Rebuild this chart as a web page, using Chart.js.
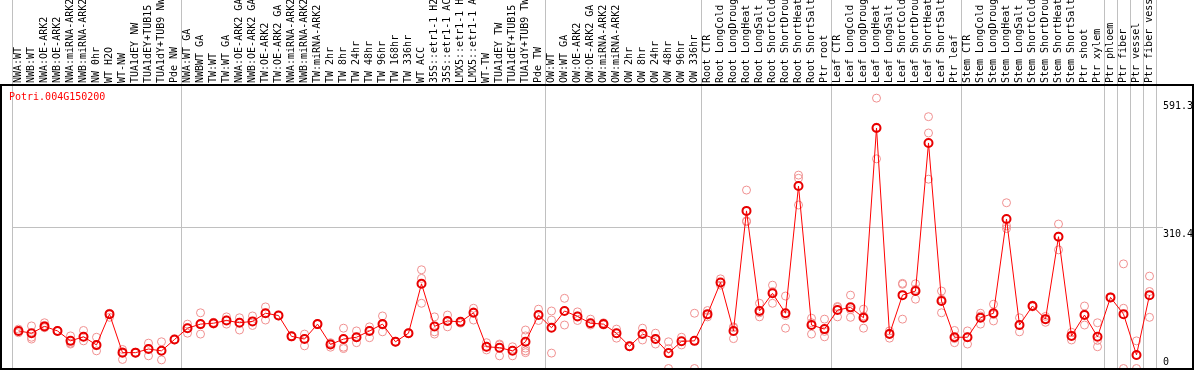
<!DOCTYPE html>
<html>
<head>
<meta charset="utf-8">
<script src="https://cdn.jsdelivr.net/npm/chart.js@4.4.1/dist/chart.umd.min.js"></script>
<style>
  html, body { margin: 0; padding: 0; background: #fff; }
  #wrap { width: 1194px; height: 370px; }
</style>
</head>
<body>
<div id="wrap"><canvas id="expr" width="1194" height="370"></canvas></div>
<script>
var geneName = "Potri.004G150200";

var sampleLabels = [
    "NWA:WT", "NWB:WT", "NWA:OE-ARK2", "NWB:OE-ARK2", "NWA:miRNA-ARK2", "NWB:miRNA-ARK2",
    "NW 0hr", "WT H2O", "WT-NW", "TUA1dEY NW", "TUA1dEY+TUB15 NW", "TUA1dY+TUB9 NW", "Pde NW",
    "NWA:WT GA", "NWBWT GA", "TW:WT", "TW:WT GA", "NWA:OE-ARK2 GA", "NWB:OE-ARK2 GA",
    "TW:OE-ARK2", "TW:OE-ARK2 GA", "NWA:miRNA-ARK2", "NWB:miRNA-ARK2", "TW:miRNA-ARK2",
    "TW 2hr", "TW 8hr", "TW 24hr", "TW 48hr", "TW 96hr", "TW 168hr", "TW 336hr", "WT ACC",
    "35S::etr1-1 H2O", "35S::etr1-1 ACC", "LMX5::etr1-1 H2O", "LMX5::etr1-1 ACC",
    "WT-TW", "TUA1dEY TW", "TUA1dEY+TUB15 TW", "TUA1dY+TUB9 TW", "Pde TW",
    "OW:WT", "OW:WT GA", "OW:OE-ARK2", "OW:OE-ARK2 GA", "OW:miRNA-ARK2", "OW:miRNA-ARK2 GA",
    "OW 2hr", "OW 8hr", "OW 24hr", "OW 48hr", "OW 96hr", "OW 336hr",
    "Root CTR", "Root LongCold", "Root LongDrought", "Root LongHeat", "Root LongSalt",
    "Root ShortCold", "Root ShortDrought", "Root ShortHeat", "Root ShortSalt", "Ptr root",
    "Leaf CTR", "Leaf LongCold", "Leaf LongDrought", "Leaf LongHeat", "Leaf LongSalt",
    "Leaf ShortCold", "Leaf ShortDrought", "Leaf ShortHeat", "Leaf ShortSalt", "Ptr leaf",
    "Stem CTR", "Stem LongCold", "Stem LongDrought", "Stem LongHeat", "Stem LongSalt",
    "Stem ShortCold", "Stem ShortDrought", "Stem ShortHeat", "Stem ShortSalt", "Ptr shoot",
    "Ptr xylem", "Ptr phloem", "Ptr fiber", "Ptr vessel", "Ptr fiber vessel"
];

// mean expression per sample
var meanValues = [
    83, 78, 93, 83, 61, 70, 52, 120, 35, 35, 43, 39, 64,
    89, 98, 100, 106, 101, 104, 122, 117, 71, 65, 98, 53, 65, 69, 83, 98, 59,
    78, 187, 93, 105, 103, 123, 48, 46, 39, 59, 118,
    90, 127, 115, 100, 98, 78, 49, 76, 65, 34, 60, 61,
    120, 190, 83, 348, 127, 166, 122, 403, 96, 87,
    129, 135, 112, 531, 76, 162, 171, 498, 149, 69,
    69, 112, 122, 330, 96, 138, 109, 291, 72, 118, 70,
    157, 120, 30, 162
];

// individual replicates (null = no replicate)
var repA = [
    87, 94, 101, 84, 72, 84, 69, 122, 42, 36, 56, 59, 65,
    98, 123, 98, 114, 112, 116, 136, 118, 72, 76, 99, 57, 89, 83, 92, 116, 60,
    79, 218, 114, 118, 104, 133, 57, 54, 48, 85, 131,
    127, 155, 125, 109, 101, 87, 50, 89, 78, 59, 69, 122,
    128, 198, 92, 394, 144, 184, 160, 427, 111, 109,
    137, 162, 131, 597, 83, 188, 187, 556, 171, 84,
    83, 122, 142, 366, 112, 140, 115, 319, 80, 138, 101,
    158, 231, 61, 204
];
var repB = [
    79, 69, 95, 82, 56, 61, 50, 113, 20, 34, 28, 19, 63,
    78, 76, 102, 98, 85, 95, 107, 116, 70, 50, 97, 47, 47, 57, 68, 81, 58,
    77, 199, 81, 92, 100, 107, 41, 28, 28, 72, 106,
    107, 96, 106, 96, 96, 67, 48, 63, 54, 0, 52, 0,
    114, 184, 66, 324, 114, 144, 89, 420, 76, 70,
    114, 113, 89, 463, 67, 186, 153, 520, 123, 57,
    54, 98, 105, 315, 81, 136, 102, 262, 63, 96, 48,
    156, 133, 0, 170
];
var repC = [
    82, 65, 90, 83, 54, 70, 39, 121, 37, 35, 44, 40, 64,
    90, 97, 100, 107, 102, 104, 122, 117, 71, 66, 98, 55, 44, 68, 84, 96, 59,
    78, 144, 76, 105, 103, 125, 47, 52, 40, 45, 118,
    34, 127, 116, 100, 98, 78, 49, 76, 66, 44, 60, 61,
    118, 189, 90, 326, 123, 170, 117, 361, 101, 82,
    135, 130, 116, 533, 78, 109, 175, 418, 153, 66,
    70, 116, 119, 309, 95, 138, 110, 292, 73, 120, 62,
    157, 0, 29, 113
];
var repD = [
    null, null, null, null, null, null, null, null, null, null, null, null, null,
    null, null, null, null, null, null, null, null, null, null, null, null, null, null, null, null, null,
    null, null, null, null, null, null, null, null, null, 39, null,
    null, null, null, null, null, null, null, null, null, null, null, null,
    null, null, null, null, null, null, null, null, null, null,
    null, null, null, null, null, null, null, null, null, null,
    null, null, null, null, null, null, null, null, null, null, null,
    null, null, null, null
];
var repE = [
    null, null, null, null, null, null, null, null, null, null, null, null, null,
    null, null, null, null, null, null, null, null, null, null, null, null, null, null, null, null, null,
    null, null, null, null, null, null, null, null, null, 35, null,
    null, null, null, null, null, null, null, null, null, null, null, null,
    null, null, null, null, null, null, null, null, null, null,
    null, null, null, null, null, null, null, null, null, null,
    null, null, null, null, null, null, null, null, null, null, null,
    null, null, null, null
];

var yTickValues = [0, 310.4, 591.3];
var yMax = 626;
// category index where a grey separator line sits on the left edge
var groupBreaks = [0, 13, 41, 53, 63, 73, 84, 85, 86, 87];

var monoFont = { family: "'DejaVu Sans Mono', 'Liberation Mono', monospace", size: 10 };
var sepColor = "#c0c0c0";

function repDataset(values) {
    return {
        data: values,
        showLine: false,
        pointRadius: 4,
        pointBorderWidth: 1,
        pointBorderColor: "#f09090",
        pointBackgroundColor: "rgba(0,0,0,0)",
        spanGaps: false
    };
}

// black frame round the plot and the gene name in the corner
var framePlugin = {
    id: "frame",
    afterDraw: function (chart) {
        var c = chart.ctx;
        c.save();
        c.strokeStyle = "#000";
        c.lineWidth = 2;
        c.strokeRect(1, 85, 1192, 284);
        c.fillStyle = "#ff0000";
        c.font = "10px " + monoFont.family;
        c.textBaseline = "middle";
        c.textAlign = "left";
        c.fillText(geneName, 9, 97);
        c.restore();
    }
};

var datasets = [{
    data: meanValues,
    borderColor: "#ff0000",
    borderWidth: 1,
    pointRadius: 4,
    pointBorderWidth: 2,
    pointBorderColor: "#e80000",
    pointBackgroundColor: "rgba(0,0,0,0)",
    tension: 0
}];
[repA, repB, repC, repD, repE].forEach(function (r) {
    datasets.push(repDataset(r));
});

new Chart(document.getElementById("expr").getContext("2d"), {
    type: "line",
    data: { labels: sampleLabels, datasets: datasets },
    plugins: [framePlugin],
    options: {
        responsive: false,
        animation: false,
        devicePixelRatio: 1,
        layout: { autoPadding: false, padding: { left: 12, right: 0, top: 0, bottom: 1.5 } },
        plugins: { legend: { display: false }, tooltip: { enabled: false } },
        scales: {
            x: {
                type: "category",
                position: "top",
                offset: true,
                afterFit: function (s) {
                    s.height = 85;
                    s.paddingLeft = 0;
                    s.paddingRight = 0;
                },
                border: { display: false },
                grid: {
                    offset: true,
                    drawTicks: true,
                    tickLength: 85,
                    lineWidth: 1,
                    color: function (ctx) {
                        if (ctx.index === undefined) return sepColor;
                        return groupBreaks.indexOf(ctx.index) >= 0 ? sepColor : "rgba(0,0,0,0)";
                    }
                },
                ticks: {
                    autoSkip: false,
                    minRotation: 90,
                    maxRotation: 90,
                    padding: -83,
                    labelOffset: 12,
                    color: "#000",
                    font: monoFont
                }
            },
            y: {
                position: "right",
                min: 0,
                max: yMax,
                afterFit: function (s) {
                    s.width = 38;
                    s.paddingTop = 0;
                    s.paddingBottom = 0;
                },
                afterBuildTicks: function (s) {
                    s.ticks = yTickValues.map(function (v) { return { value: v }; });
                },
                border: { display: false },
                grid: {
                    drawTicks: true,
                    tickLength: 7,
                    color: function (ctx) {
                        return ctx.tick && ctx.tick.value === 310.4 ? sepColor : "rgba(0,0,0,0)";
                    }
                },
                ticks: {
                    padding: 0,
                    color: "#000",
                    font: monoFont,
                    callback: function (v) {
                        return v === 0 ? ["0", ""] : ["", String(v)];
                    }
                }
            }
        }
    }
});
</script>
</body>
</html>
